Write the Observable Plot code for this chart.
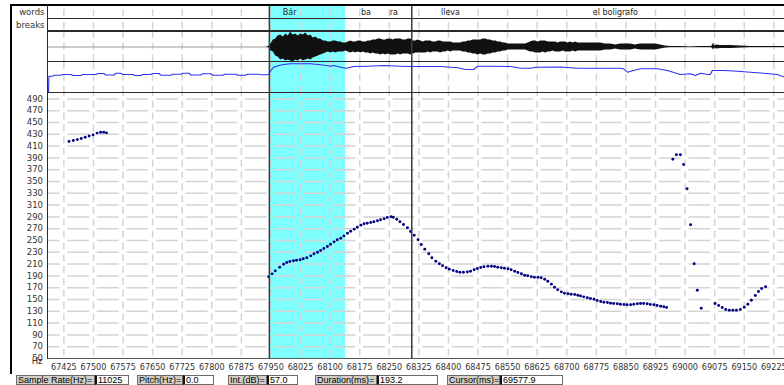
<!DOCTYPE html>
<html><head><meta charset="utf-8">
<script src="https://cdn.jsdelivr.net/npm/d3@7"></script>
<script src="https://cdn.jsdelivr.net/npm/@observablehq/plot@0.6"></script>
<style>
html,body{margin:0;padding:0;background:#fff;}
#root{position:relative;width:784px;height:385px;overflow:hidden;background:#fff;font-family:"DejaVu Sans",sans-serif;}
.ln{position:absolute;background:#2a2a2a;}
.sb{position:absolute;top:375px;height:10px;font:9px "Liberation Sans",Arial,sans-serif;line-height:8px;box-sizing:border-box;white-space:nowrap;padding-left:1px;color:#000;overflow:hidden;}
.lab{background:#d4d0c8;border:1px solid #6a6a6a;}
.val{background:#fff;border:1px solid #6a6a6a;border-left:2px solid #111;}
svg{position:absolute;left:0;}
</style></head><body><div id="root"></div>
<script>
// ---- data ----
const xDomain = [67386, 69252];
const xTicks = [67425,67500,67575,67650,67725,67800,67875,67950,68025,68100,68175,68250,68325,68400,68475,68550,68625,68700,68775,68850,68925,69000,69075,69150,69225];
const yTicks = [50,70,90,110,130,150,170,190,210,230,250,270,290,310,330,350,370,390,410,430,450,470,490];
const selection = [{start: 67946, end: 68139.2}];
const markerTimes = [67946, 68307];
const wordLabels = ["Bár", "ba", "ra", "lleva", "el boligrafo"];
const wordTimes = [67980, 68178, 68251, 68381, 68766];
const tierNames = ["words", "breaks"];

// pitch contour [ms, Hz]
const pitchSeg1 = [[67438,418],[67449,419.5],[67459,421],[67469,423],[67479,425],[67489,427],[67499,429],[67509,432],[67518,433.5],[67526,433.5],[67533,432.5]];
const pitchSeg2 = [[67944,188.5],[67953,193.5],[67961,198.6],[67972,204.7],[67982,209.8],[67990,212.7],[67998,214.4],[68007,215.6],[68015,216.6],[68024,217.3],
[68032,219],[68041,220.7],[68051,224],[68059,227.5],[68068,230.2],[68076,233],[68084,236.4],[68093,239.8],[68101,243.7],[68110,247.7],
[68118,251.2],[68127,253.9],[68135,257.8],[68144,262.4],[68152,265.8],[68161,269.2],[68169,272.5],[68178,276],[68186,278.3],[68194,279.3],
[68203,280.5],[68211,281.7],[68220,283.4],[68228,285.1],[68237,286.8],[68245,289],[68254,290.2],[68260,289.5],[68269,286.1],[68277,281.7],
[68286,277.1],[68296,271.5],[68304,265.3],[68313,259],[68323,251.2],[68331,243.2],[68340,235.3],[68350,227.5],[68358,220.7],[68368,214.9],
[68377,210.5],[68385,207.1],[68394,203.7],[68402,201.4],[68412,199.2],[68421,197.5],[68429,196.3],[68438,196.3],[68448,196.5],[68456,198],
[68465,200.3],[68473,202.5],[68482,204.2],[68490,205.4],[68500,206.4],[68509,206.4],[68517,205.9],[68525,204.7],[68534,203.7],[68542,203],
[68551,202],[68559,200.3],[68568,198],[68576,195.8],[68585,193.6],[68593,191.2],[68601,190.2],[68610,188.5],[68618,187.8],[68627,187.8],
[68635,186.8],[68644,184.4],[68652,181],[68661,176],[68669,170.8],[68677,166.4],[68686,163],[68694,160.7],[68703,159.7],[68711,159],
[68720,158.5],[68728,157.3],[68735,156.1],[68743,154.5],[68752,152.9],[68760,151.7],[68769,150.5],[68777,148.3],[68786,146.6],[68794,145.4],
[68803,144.9],[68811,143.7],[68819,143.2],[68828,142.7],[68836,142],[68845,141.5],[68853,141],[68862,141],[68870,142],[68879,142.7],
[68887,143.2],[68895,143.2],[68904,142.7],[68912,141.5],[68921,141],[68929,139.8],[68938,138.6],[68946,137.6],[68953,136.4]];
const pitchSeg3 = [[68969,387.8],[68978,395.3],[68988,395.3],[68996,378.8],[69005,337.6],[69014,276.6],[69023,210.5],[69031,165.8],[69041,135.3]];
const pitchSeg4 = [[69076,143.2],[69085,139.8],[69094,136.4],[69103,133],[69112,131.9],[69121,131.9],[69130,131.9],[69140,133],[69150,137],[69159,142],[69168,148.8],[69178,156.8],[69186,163.6],[69194,168.6],[69204,171.5]];

// waveform envelope [ms, upper amplitude, lower amplitude]
const waveEnv = [[67386,0,0],[67937,0,0],[67944,0.5,0.5],[67950,3,4],[67956,7,5],[67962,8,9],[67968,11,10],[67975,12,13],[67981,10,12],[67988,13,14],[67994,11,13],[68000,15,14],[68006,12,15],[68013,13,13],[68019,11,14],[68026,13,12],[68032,12,14],[68038,14,13],[68045,11,12],[68051,12,13],[68057,9,11],[68064,10,10],[68070,8,9],[68076,8,8],[68083,6,7],[68089,6,6],[68095,5,5],[68102,5,6],[68108,6,5],[68114,6,6],[68121,5,5],[68127,5,5],[68133,4,5],[68140,4,4],[68146,5,5],[68152,6,6],[68159,5,5],[68165,5,6],[68171,6,5],[68178,6,6],[68184,5,5],[68190,5,6],[68197,6,6],[68203,6,7],[68209,7,6],[68216,7,7],[68222,8,7],[68228,8,8],[68235,7,7],[68241,7,8],[68247,8,7],[68254,8,8],[68260,7,8],[68266,8,8],[68273,8,7],[68279,8,8],[68285,7,7],[68292,7,7],[68298,8,7],[68304,8,8],[68311,6,7],[68317,6,6],[68323,7,6],[68330,6,6],[68336,5,6],[68342,6,6],[68349,6,5],[68355,6,6],[68361,5,5],[68368,5,5],[68374,6,5],[68380,6,6],[68387,5,5],[68393,5,5],[68399,5,4],[68406,5,5],[68412,4,4],[68418,4,4],[68425,4,4],[68431,4,4],[68437,5,5],[68444,5,5],[68450,6,6],[68456,6,6],[68463,7,7],[68469,7,7],[68475,7,8],[68482,7,7],[68488,8,8],[68494,8,8],[68501,7,7],[68507,7,7],[68513,6,6],[68520,6,6],[68526,5,5],[68532,5,5],[68539,4,4],[68545,4,4],[68551,3,3],[68558,3,3],[68570,3,3],[68583,3,3],[68596,3,3],[68602,4,4],[68608,5,5],[68615,6,5],[68621,6,6],[68627,5,6],[68634,6,6],[68640,6,5],[68646,6,6],[68653,5,5],[68659,5,5],[68665,5,4],[68672,5,5],[68678,4,5],[68684,5,5],[68691,5,4],[68697,5,5],[68703,4,5],[68710,5,5],[68716,4,4],[68722,5,5],[68729,4,4],[68735,4,4],[68748,4,4],[68760,4,4],[68773,4,4],[68786,4,4],[68798,3,3],[68811,3,3],[68824,2,2],[68836,3,3],[68849,3,3],[68862,3,3],[68874,2,2],[68887,3,3],[68900,3,3],[68912,3,3],[68925,3,3],[68938,2,2],[68950,1,1],[68963,0.5,0.5],[68988,0.5,0.5],[69014,0.3,0.3],[69039,0.5,0.5],[69064,0.5,0.5],[69069,1,1],[69072,4,3],[69075,1,1],[69080,2,2],[69090,1.5,1.5],[69115,1.5,1.5],[69140,1,1],[69166,0.5,0.5],[69252,0.5,0.5]];

// intensity [ms, dB]
const intensity = [[67386,30],[67387,46.3],[67397,46.3],[67400,47.3],[67417,47.3],[67422,48],[67443,48],[67448,47],[67468,47],[67473,48],[67506,48],[67511,49],[67526,49],[67531,47.5],[67552,47.5],[67557,49.3],[67569,49.3],[67574,48],[67600,48],[67605,47],[67620,47],[67625,48],[67645,48],[67650,49],[67666,49],[67671,47.3],[67696,47.3],[67701,48.3],[67721,48.3],[67727,49.3],[67742,49.3],[67747,47.5],[67772,47.5],[67777,48.7],[67797,48.7],[67803,47.3],[67828,47.3],[67833,48.3],[67861,48.3],[67866,47.3],[67886,47.3],[67891,48.3],[67919,48.3],[67924,47.7],[67939,47.7],[67944,48],[67950,52],[67957,55.3],[67970,57],[67982,58],[68000,58.7],[68051,58.7],[68076,57.7],[68102,56.3],[68109,57],[68127,55.3],[68140,54.3],[68160,56],[68195,56.3],[68236,57],[68279,56.3],[68304,56],[68380,56],[68423,54.7],[68444,53],[68464,53],[68474,56.3],[68507,56.3],[68558,56],[68583,54.3],[68608,54.3],[68621,55.3],[68684,55.5],[68727,54.3],[68836,54.3],[68844,53.7],[68854,50.3],[68869,52],[68887,53.7],[68930,53.7],[68955,52],[68988,48],[69014,48.7],[69026,47],[69039,49.3],[69057,48],[69064,48],[69069,52],[69077,52],[69097,52],[69133,51.3],[69166,50.3],[69199,49.3],[69234,48],[69252,45.3]];

// status bar
const statusLabels = ["Sample Rate(Hz)=", "Pitch(Hz)=", "Int.(dB)=", "Duration(ms)=", "Cursor(ms)="];
const statusValues = ["11025", "0.0", "57.0", "193.2", "69577.9"];

// ---- drawing ----
const root = document.getElementById("root");
const W = 784;
const X = {domain: xDomain, range: [48, W], axis: null};
const base = (h, extra={}) => Object.assign({
  width: W, height: h, marginLeft: 48, marginRight: 0, marginTop: 0, marginBottom: 0,
  style: {background: "transparent", overflow: "visible", fontFamily: "DejaVu Sans, sans-serif", fontSize: "8.5px", color: "#333"}
}, extra);
const selRect = () => Plot.rect(selection, {x1: "start", x2: "end", fill: "#80ffff"});
const vGrid = (off) => Plot.ruleX(xTicks, {stroke: "#d4d4d4", strokeWidth: 1.5, strokeDasharray: "7,4.8", strokeDashoffset: off});
const markers = () => Plot.ruleX(markerTimes, {stroke: "#3c3c3c", strokeWidth: 1.5});
function place(svg, top) { svg.style.top = top + "px"; root.appendChild(svg); }

// words tier
const words = wordLabels.map((w, i) => ({w, t: wordTimes[i]}));
place(Plot.plot(base(13, {x: X, marks: [
  selRect(), vGrid(-4),
  Plot.text(words, {x: "t", text: "w", textAnchor: "start", fontSize: 8, fill: "#222"}),
  Plot.text([tierNames[0]], {text: d => d, frameAnchor: "left", dx: -4, textAnchor: "end", fill: "#333"}),
  markers()
]})), 5);

// breaks tier
place(Plot.plot(base(13, {x: X, marks: [
  selRect(), vGrid(-4),
  Plot.text([tierNames[1]], {text: d => d, frameAnchor: "left", dx: -4, textAnchor: "end", fill: "#333"}),
  markers()
]})), 18);

// waveform tier
place(Plot.plot(base(31, {x: X, y: {domain: [-15.5, 15.5], range: [31, 0], axis: null}, marks: [
  selRect(), vGrid(0),
  Plot.ruleY([0], {stroke: "#9a9a9a", strokeWidth: 1.2}),
  Plot.areaY(waveEnv, {x: d => d[0], y1: d => -d[2], y2: d => d[1], fill: "#111"}),
  markers()
]})), 31);

// intensity tier
place(Plot.plot(base(30, {x: X, y: {domain: [30, 60], range: [30, 0], axis: null}, marks: [
  selRect(), vGrid(0),
  Plot.line(intensity, {x: d => d[0], y: d => d[1], stroke: "#2f2ff0", strokeWidth: 1.1}),
  markers()
]})), 62);

// pitch plot
const pitch = [...pitchSeg1, ...pitchSeg2, ...pitchSeg3, ...pitchSeg4];
const pitchSvg = Plot.plot(base(283, {
  marginBottom: 17,
  x: {domain: xDomain, range: [48, W], ticks: xTicks, tickSize: 0, tickPadding: 6, tickFormat: d => String(d), label: null},
  y: {domain: [50, 500], range: [266, 0.5], ticks: yTicks, tickSize: 0, tickPadding: 5.5, tickFormat: d => String(d), label: null},
  marks: [
    selRect(),
    vGrid(3),
    Plot.ruleY(yTicks.slice(1), {stroke: "#d4d4d4", strokeWidth: 1.5, strokeDasharray: "22,7.58", strokeDashoffset: 10.4}),
    Plot.ruleY([50], {stroke: "#555", strokeWidth: 1}),
    Plot.dot(pitch, {x: d => d[0], y: d => d[1], r: 1.45, fill: "#000080", stroke: "none"}),
    markers(),
    Plot.text(["Hz"], {text: d => d, frameAnchor: "bottom-left", dx: -6, dy: 5, textAnchor: "end", fill: "#333"})
  ]
}));
pitchSvg.style.fontSize = "8.5px";
place(pitchSvg, 92);
// slightly narrower x tick labels, like the reference
pitchSvg.querySelectorAll("g[aria-label='x-axis tick label'] text, g[aria-label='x-axis'] text").forEach(t => t.setAttribute("font-size", "8.1px"));

// frame lines (decoration)
function line(l, t, w, h, c) { const d = document.createElement("div"); d.className = "ln"; Object.assign(d.style, {left: l+"px", top: t+"px", width: w+"px", height: h+"px"}); if (c) d.style.background = c; root.appendChild(d); }
line(9.5, 4, W, 2.2, "#000");      // top border
line(9.5, 4, 2.2, 370, "#000");    // left border
line(47, 5, 1.3, 354);             // plot left edge
line(47, 17.6, W, 1.3);
line(47, 30.4, W, 1.3);
line(47, 61, W, 1.4);
line(47, 91.6, W, 1.3);

// status bar
const sbPos = [[16, 95, 129], [137, 183, 214], [228, 267, 298], [315, 377, 438], [447, 500, 563]];
statusLabels.forEach((s, i) => {
  const [a, b, c] = sbPos[i];
  const l = document.createElement("div"); l.className = "sb lab"; l.style.left = a+"px"; l.style.width = (b-a)+"px"; l.textContent = s; root.appendChild(l);
  const v = document.createElement("div"); v.className = "sb val"; v.style.left = b+"px"; v.style.width = (c-b)+"px"; v.textContent = statusValues[i]; root.appendChild(v);
});
</script></body></html>
